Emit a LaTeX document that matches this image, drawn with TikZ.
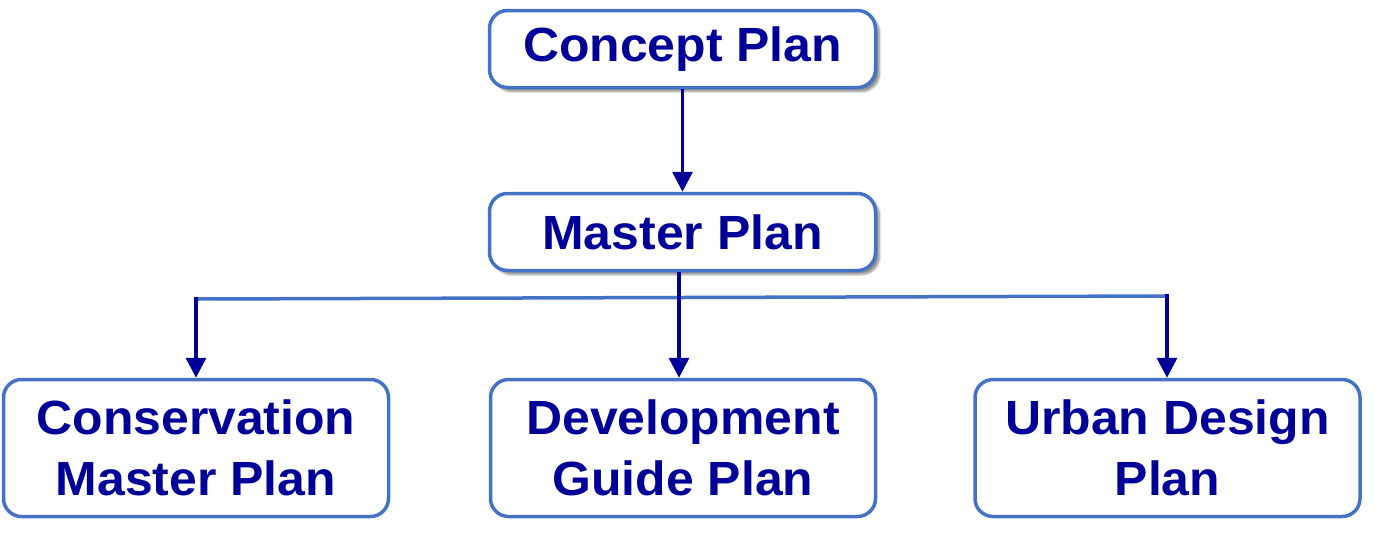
\documentclass[tikz,border=0pt]{standalone}
\usepackage{fontspec}
\setmainfont{Liberation Sans}
\newfontfamily\lblfont[FakeStretch=1.04]{Liberation Sans}
\usetikzlibrary{arrows.meta,shadows.blur}
\definecolor{navy}{RGB}{0,0,153}
\definecolor{boxblue}{RGB}{68,114,196}
\tikzset{
  planbox/.style={draw=boxblue, line width=3.5pt, rounded corners=18pt, fill=white,
    text=navy, font=\lblfont\bfseries\fontsize{48}{61}\selectfont, align=center,
    inner sep=0pt},
  topbox/.style={planbox, minimum width=386pt, minimum height=77pt,
    blur shadow={shadow xshift=4pt, shadow yshift=-4pt, shadow blur steps=6, shadow opacity=45}},
  botbox/.style={planbox, minimum width=385pt, minimum height=137pt},
  arr/.style={draw=navy, line width=3.5pt, -{Triangle[width=20pt,length=20pt]}},
  bus/.style={draw=boxblue, line width=3.5pt},
}
\begin{document}
\begin{tikzpicture}[x=1pt,y=-1pt]
\useasboundingbox (0,0) rectangle (1375,539);
\node[topbox] (concept) at (682.5,49) {Concept Plan};
\node[topbox] (master) at (682.5,232) {Master Plan};
\node[botbox] (cons) at (196,448) {Conservation\\Master Plan};
\node[botbox] (dev) at (683,448) {Development\\Guide Plan};
\node[botbox] (urban) at (1167.5,448) {Urban Design\\Plan};
\coordinate (busL) at (196,299);
\coordinate (busM) at (679,297.5);
\coordinate (busR) at (1167,296);
\draw[bus] (busL) -- (busR);
\draw[arr] (concept.south) -- (master.north);
\draw[arr] (master.south -| busM) -- (dev.north -| busM);
\draw[arr, line cap=rect] (busL) -- (cons.north -| busL);
\draw[arr, line cap=rect] (busR) -- (urban.north -| busR);
\end{tikzpicture}
\end{document}
